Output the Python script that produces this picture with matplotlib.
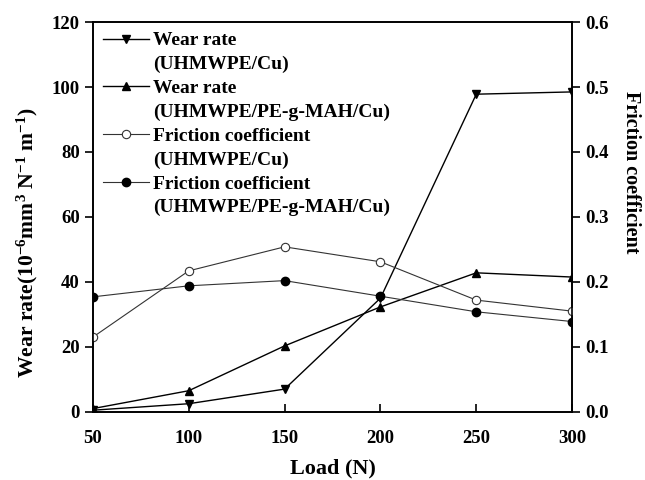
import matplotlib
matplotlib.use("Agg")
import matplotlib.pyplot as plt
from matplotlib.lines import Line2D

plt.rcParams["font.family"] = ["Liberation Serif", "DejaVu Serif"]
plt.rcParams["font.weight"] = "bold"
plt.rcParams["axes.labelweight"] = "bold"
plt.rcParams["mathtext.fontset"] = "custom"
plt.rcParams["mathtext.rm"] = "Liberation Serif:bold"
plt.rcParams["mathtext.it"] = "Liberation Serif:bold"
plt.rcParams["mathtext.bf"] = "Liberation Serif:bold"
plt.rcParams["mathtext.default"] = "rm"

# data
load = [50, 100, 150, 200, 250, 300]
wear_cu = [0.5, 2.5, 7.0, 35.0, 97.8, 98.5]
wear_mah = [1.0, 6.5, 20.3, 32.3, 42.8, 41.5]
fric_cu = [0.115, 0.217, 0.254, 0.231, 0.172, 0.155]
fric_mah = [0.177, 0.194, 0.202, 0.178, 0.154, 0.139]

fig = plt.figure(figsize=(6.45, 4.8), dpi=100)
ax = fig.add_axes([0.144, 0.142, 0.743, 0.812])
ax2 = ax.twinx()

l1, = ax.plot(load, wear_cu, "k-", marker="v", ms=6, lw=1.0)
l2, = ax.plot(load, wear_mah, "k-", marker="^", ms=6, lw=1.0)
l3, = ax2.plot(load, fric_cu, "-", color="#333333", marker="o", ms=6,
               mfc="white", mec="#333333", mew=0.8, lw=0.8)
l4, = ax2.plot(load, fric_mah, "-", color="#333333", marker="o", ms=6,
               mfc="black", mec="black", lw=0.8)

ax.set_xlim(50, 300)
ax.set_ylim(0, 120)
ax2.set_ylim(0, 0.6)
ax.set_xticks(load)
ax.set_yticks(range(0, 121, 20))
ax2.set_yticks([0.0, 0.1, 0.2, 0.3, 0.4, 0.5, 0.6])
ax2.set_yticklabels(["0.0", "0.1", "0.2", "0.3", "0.4", "0.5", "0.6"])

ax.tick_params(axis="x", direction="in", length=6, width=1.2, labelsize=13.5, pad=13)
ax.tick_params(axis="y", direction="out", length=6, width=1.2, labelsize=13.5)
ax2.tick_params(axis="y", direction="out", length=6, width=1.2, labelsize=13.5)
for a in (ax, ax2):
    for s in a.spines.values():
        s.set_linewidth(1.2)

ax.set_xlabel("Load (N)", fontsize=16, labelpad=8)
ax.set_ylabel("Wear rate(10$^{-6}$mm$^{3}$ N$^{-1}$ m$^{-1}$)", fontsize=15.6)
ax.yaxis.set_label_coords(-0.11, 0.433)
ax2.set_ylabel("Friction coefficient", fontsize=14.5, rotation=270, va="bottom")
ax2.yaxis.set_label_coords(1.102, 0.615)

blank = Line2D([], [], linestyle="none", marker="none")
leg = ax.legend([l1, blank, l2, blank, l3, blank, l4, blank],
                ["Wear rate", "(UHMWPE/Cu)",
                 "Wear rate", "(UHMWPE/PE-g-MAH/Cu)",
                 "Friction coefficient", "(UHMWPE/Cu)",
                 "Friction coefficient", "(UHMWPE/PE-g-MAH/Cu)"],
                loc="upper left", frameon=False, fontsize=14, handlelength=2.4,
                handletextpad=0.2, labelspacing=0.32, borderaxespad=0.2,
                borderpad=0.3)

fig.savefig("out.png", dpi=100)
